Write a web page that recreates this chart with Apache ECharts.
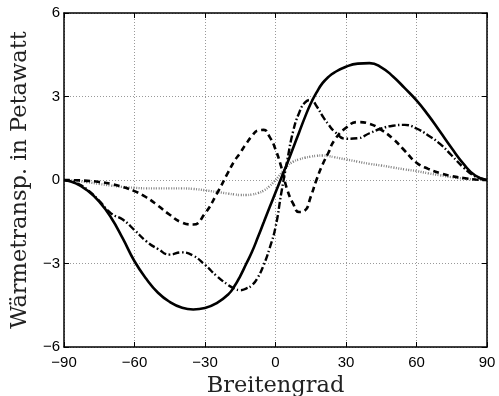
<!DOCTYPE html>
<html>
<head>
<meta charset="utf-8">
<script src="https://cdn.jsdelivr.net/npm/echarts@6/dist/echarts.min.js"></script>
<style>
  html, body { margin: 0; padding: 0; background: #fff; }
  #chart { width: 499px; height: 396px; }
</style>
</head>
<body>
<div id="chart"></div>
<script>
// Latitude sample points (degrees)
const latitudes = [-90,-85,-80,-75,-70,-65,-60,-55,-50,-45,-40,-35,-30,-25,-20,
  -17.5,-15,-12.5,-10,-7.5,-5,-2.5,0,2.5,5,7.5,10,12.5,15,17.5,20,22.5,25,
  30,35,40,45,50,55,60,65,70,75,80,85,90];

// Total meridional heat transport (PW)
const totalTransport = [0,-0.12,-0.38,-0.78,-1.35,-2.1,-2.92,-3.55,-4.05,-4.38,-4.58,-4.65,-4.6,-4.42,-4.1,
  -3.82,-3.45,-3.02,-2.58,-2.06,-1.52,-0.98,-0.45,0.08,0.6,1.15,1.7,2.25,2.75,3.15,3.48,3.7,3.86,
  4.07,4.18,4.2,4.05,3.72,3.3,2.86,2.33,1.74,1.14,0.58,0.16,0];

// Dashed curve (PW)
const dashedTransport = [0,-0.01,-0.03,-0.07,-0.14,-0.25,-0.4,-0.62,-0.92,-1.25,-1.52,-1.6,-1.2,-0.5,0.3,
  0.68,0.98,1.3,1.58,1.78,1.8,1.55,1.1,0.45,-0.35,-0.85,-1.15,-1.1,-0.6,0.02,0.55,0.98,1.42,
  1.88,2.08,2.02,1.8,1.48,1.05,0.62,0.4,0.25,0.14,0.07,0.02,0];

// Dash-dot curve (PW)
const dashDotTransport = [0,-0.1,-0.35,-0.75,-1.2,-1.42,-1.8,-2.2,-2.48,-2.68,-2.6,-2.72,-3.05,-3.45,-3.78,
  -3.9,-3.96,-3.9,-3.78,-3.5,-3.05,-2.45,-1.7,-0.45,0.7,1.75,2.4,2.78,2.88,2.65,2.3,2.0,1.75,
  1.48,1.5,1.68,1.85,1.95,1.98,1.85,1.6,1.3,0.88,0.45,0.13,0];

// Dotted curve (PW)
const dottedTransport = [0,-0.03,-0.08,-0.14,-0.2,-0.25,-0.28,-0.3,-0.3,-0.3,-0.3,-0.32,-0.37,-0.43,-0.49,
  -0.52,-0.54,-0.54,-0.52,-0.47,-0.38,-0.22,0,0.25,0.5,0.66,0.74,0.8,0.84,0.87,0.88,0.86,0.82,
  0.74,0.66,0.58,0.52,0.45,0.38,0.32,0.24,0.17,0.1,0.05,0.02,0];

// Axis tick values
const xTicks = [-90,-60,-30,0,30,60,90];
const yTicks = [-6,-3,0,3,6];

const pairs = ys => latitudes.map((x, i) => [x, ys[i]]);
const minusSign = v => String(v).replace('-', '\u2212');

const tickFont = { fontFamily: 'Liberation Sans', fontSize: 15, color: '#000' };
const titleFont = { fontFamily: 'DejaVu Serif', fontSize: 22.5, color: '#222' };
const gridLine = { show: true, lineStyle: { color: '#999', width: 1, type: [1, 2] } };
const boxLine = { show: true, onZero: false, lineStyle: { color: '#000', width: 1.5 } };
const inTick = { show: true, inside: true, length: 5, lineStyle: { color: '#000', width: 1 } };

const chart = echarts.init(document.getElementById('chart'), null, { renderer: 'canvas' });

const curve = (ys, style, z) => ({
  type: 'line', data: pairs(ys), smooth: 0.5, symbol: 'none',
  lineStyle: style, z: z
});

chart.setOption({
  animation: false,
  backgroundColor: '#fff',
  grid: { left: 64, right: 12, top: 13, bottom: 49, containLabel: false, outerBoundsMode: 'none' },
  xAxis: [
    {
      type: 'value', min: xTicks[0], max: xTicks[xTicks.length - 1], interval: 30,
      position: 'bottom',
      axisLine: boxLine, axisTick: inTick, splitLine: gridLine,
      axisLabel: Object.assign({ margin: 8, formatter: minusSign }, tickFont),
      name: 'Breitengrad', nameLocation: 'middle', nameGap: 19,
      nameTextStyle: titleFont
    },
    {
      type: 'value', min: xTicks[0], max: xTicks[xTicks.length - 1], interval: 30,
      position: 'top',
      axisLine: boxLine, axisTick: inTick, splitLine: { show: false },
      axisLabel: { show: false }
    }
  ],
  yAxis: [
    {
      type: 'value', min: yTicks[0], max: yTicks[yTicks.length - 1], interval: 3,
      position: 'left',
      axisLine: boxLine, axisTick: inTick, splitLine: gridLine,
      axisLabel: Object.assign({ margin: 4, formatter: minusSign }, tickFont),
      name: 'Wärmetransp. in Petawatt', nameLocation: 'middle', nameGap: 30,
      nameTextStyle: titleFont
    },
    {
      type: 'value', min: yTicks[0], max: yTicks[yTicks.length - 1], interval: 3,
      position: 'right',
      axisLine: boxLine, axisTick: inTick, splitLine: { show: false },
      axisLabel: { show: false }
    }
  ],
  series: [
    curve(dottedTransport, { color: '#808080', width: 2.4, type: [1, 1.5] }, 2),
    curve(dashDotTransport, { color: '#000', width: 2.4, type: [7, 2.5, 1.5, 2.5] }, 3),
    curve(dashedTransport, { color: '#000', width: 2.6, type: [6, 4] }, 4),
    curve(totalTransport, { color: '#000', width: 2.6, type: 'solid' }, 5)
  ]
});
</script>
</body>
</html>
